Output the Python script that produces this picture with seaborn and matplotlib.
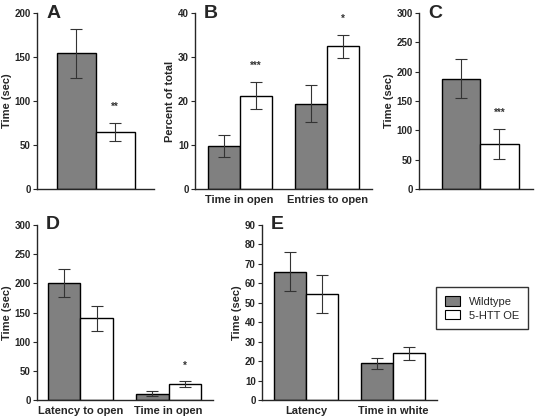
import pandas as pd
import matplotlib
matplotlib.use('Agg')
import matplotlib.pyplot as plt
import seaborn as sns
from matplotlib.patches import Patch

# Grupos e cores
grupos = ['Wildtype', '5-HTT OE']
cores = ['#808080', '#ffffff']

# Painel A
a_cats = ['']
a_wt = [154]
a_wt_err = [28]
a_oe = [65]
a_oe_err = [10]
a_sig = ['**']

# Painel B
b_cats = ['Time in open', 'Entries to open']
b_wt = [9.8, 19.4]
b_wt_err = [2.5, 4.2]
b_oe = [21.2, 32.4]
b_oe_err = [3.1, 2.6]
b_sig = ['***', '*']

# Painel C
c_cats = ['']
c_wt = [188]
c_wt_err = [33]
c_oe = [77]
c_oe_err = [26]
c_sig = ['***']

# Painel D
d_cats = ['Latency to open', 'Time in open']
d_wt = [201, 11]
d_wt_err = [24, 4]
d_oe = [140, 27]
d_oe_err = [21, 5]
d_sig = ['', '*']

# Painel E
e_cats = ['Latency', 'Time in white']
e_wt = [66, 19]
e_wt_err = [10, 2.8]
e_oe = [54.5, 24]
e_oe_err = [9.8, 3.4]
e_sig = ['', '']

sns.set_style('ticks')
plt.rcParams['font.family'] = ['Liberation Sans', 'DejaVu Sans']
plt.rcParams['font.weight'] = 'bold'


def painel(ax, cats, wt, wt_err, oe, oe_err, sig, letra, ylim, yticks, ylabel,
           xlim, largura, letra_x):
    df = pd.DataFrame({
        'cat': cats * 2,
        'grupo': [grupos[0]] * len(cats) + [grupos[1]] * len(cats),
        'valor': wt + oe,
    })
    sns.barplot(data=df, x='cat', y='valor', hue='grupo', hue_order=grupos,
                palette=cores, edgecolor='black', linewidth=1.0,
                width=largura, errorbar=None, legend=False, ax=ax)
    for p, (v, e) in zip(ax.patches, list(zip(wt, wt_err)) + list(zip(oe, oe_err))):
        cx = p.get_x() + p.get_width() / 2
        ax.errorbar(cx, v, yerr=e, fmt='none', ecolor='#333333', elinewidth=0.8,
                    capsize=4.5, capthick=0.8)
    for i, s in enumerate(sig):
        if s:
            p = ax.patches[len(cats) + i]
            cx = p.get_x() + p.get_width() / 2
            ax.text(cx, oe[i] + oe_err[i] + 0.09 * ylim[1], s, ha='center',
                    va='center', fontsize=7, color='#333333')
    ax.set_ylim(*ylim)
    ax.set_yticks(yticks)
    ax.set_xlim(*xlim)
    ax.set_xlabel('')
    ax.set_ylabel(ylabel, fontsize=8, fontweight='bold', labelpad=2)
    ax.tick_params(axis='y', labelsize=7, length=3, width=0.8, pad=1.5)
    ax.tick_params(axis='x', labelsize=8, length=0, pad=4)
    for lbl in ax.get_xticklabels() + ax.get_yticklabels():
        lbl.set_fontweight('bold')
    sns.despine(ax=ax)
    for s in ['left', 'bottom']:
        ax.spines[s].set_linewidth(1.0)
    ax.text(letra_x, 1.0, letra, transform=ax.transAxes, fontsize=14,
            fontweight='bold', va='center', ha='left')


fig = plt.figure(figsize=(5.41, 4.20), dpi=100)

ax_a = fig.add_axes([0.0684, 0.55, 0.2163, 0.419])
ax_b = fig.add_axes([0.3604, 0.55, 0.3272, 0.419])
ax_c = fig.add_axes([0.7745, 0.55, 0.2107, 0.419])
ax_d = fig.add_axes([0.0684, 0.0476, 0.325, 0.4167])
ax_e = fig.add_axes([0.4843, 0.0476, 0.3235, 0.4167])

painel(ax_a, a_cats, a_wt, a_wt_err, a_oe, a_oe_err, a_sig, 'A',
       (0, 200), [0, 50, 100, 150, 200], 'Time (sec)', (-0.6, 0.6), 0.8, 0.08)
painel(ax_b, b_cats, b_wt, b_wt_err, b_oe, b_oe_err, b_sig, 'B',
       (0, 40), [0, 10, 20, 30, 40], 'Percent of total', (-0.51, 1.51), 0.73, 0.05)
painel(ax_c, c_cats, c_wt, c_wt_err, c_oe, c_oe_err, c_sig, 'C',
       (0, 300), [0, 50, 100, 150, 200, 250, 300], 'Time (sec)', (-0.64, 0.55), 0.8, 0.08)
painel(ax_d, d_cats, d_wt, d_wt_err, d_oe, d_oe_err, d_sig, 'D',
       (0, 300), [0, 50, 100, 150, 200, 250, 300], 'Time (sec)', (-0.49, 1.5), 0.74, 0.05)
painel(ax_e, e_cats, e_wt, e_wt_err, e_oe, e_oe_err, e_sig, 'E',
       (0, 90), list(range(0, 91, 10)), 'Time (sec)', (-0.51, 1.51), 0.74, 0.05)

handles = [Patch(facecolor=c, edgecolor='black', linewidth=0.8, label=g)
           for g, c in zip(grupos, cores)]
leg = fig.legend(handles=handles, loc='center', bbox_to_anchor=(0.891, 0.2655),
                 fontsize=8, frameon=True, fancybox=False, edgecolor='black',
                 handlelength=1.3, handleheight=0.9, borderpad=0.8, labelspacing=0.3)
leg.get_frame().set_linewidth(1.0)
for t in leg.get_texts():
    t.set_fontweight('normal')

fig.savefig('out.png', dpi=100)
